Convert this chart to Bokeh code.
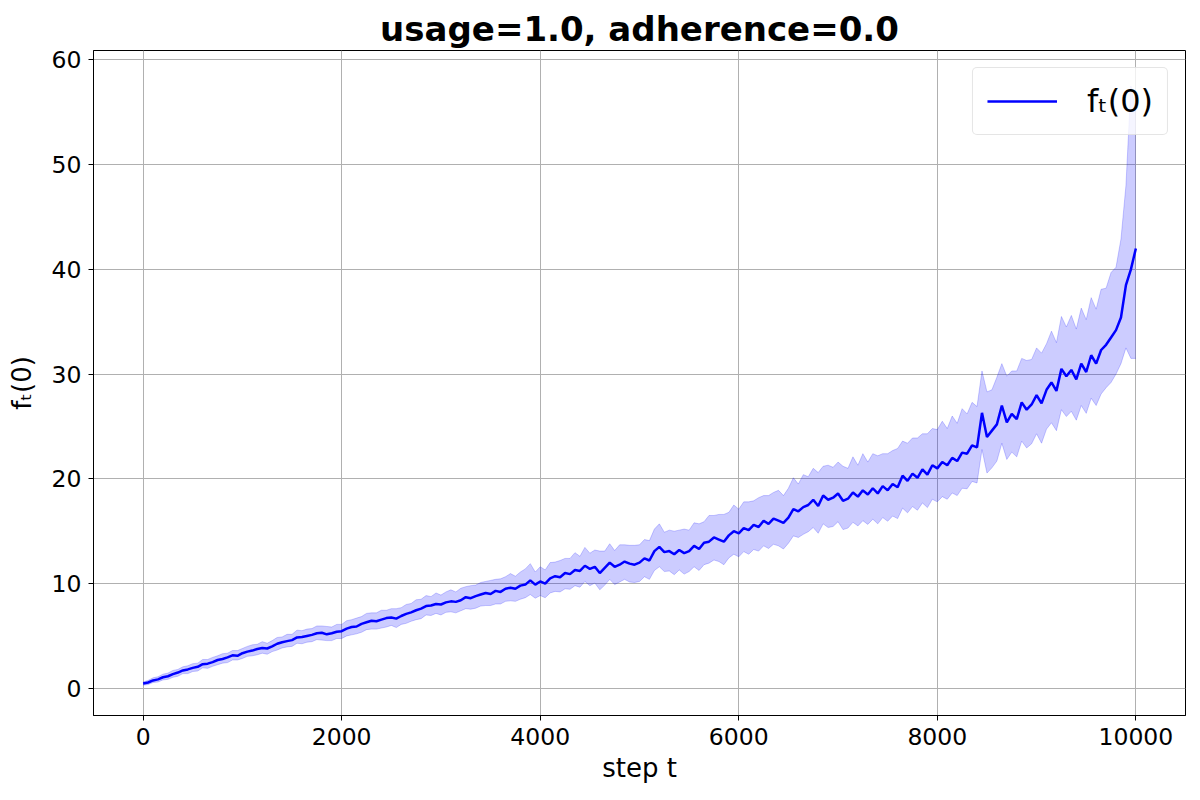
import numpy as np
from bokeh.plotting import figure
from bokeh.models import ColumnDataSource, FixedTicker, Range1d, Legend, LegendItem
from bokeh.embed import file_html
from bokeh.resources import INLINE

title_text = "usage=1.0, adherence=0.0"
x_label = "step t"
y_label = "fₜ(0)"
series_label = "fₜ(0)"
x_ticks = [0, 2000, 4000, 6000, 8000, 10000]
y_ticks = [0, 10, 20, 30, 40, 50, 60]

steps = list(range(0, 10001, 50))

mean = [
    0.45, 0.55, 0.75, 0.85, 1.05, 1.15, 1.35, 1.5, 1.7, 1.8, 1.95, 2.05, 2.3, 2.35, 2.5, 2.7, 2.8, 2.95, 3.15, 3.1, 3.35,
    3.5, 3.6, 3.75, 3.85, 3.8, 4.0, 4.25, 4.4, 4.5, 4.6, 4.85, 4.9, 5.0, 5.1, 5.25, 5.3, 5.15, 5.25, 5.4, 5.45,
    5.7, 5.85, 5.9, 6.15, 6.3, 6.45, 6.4, 6.55, 6.7, 6.75, 6.65, 6.9, 7.1, 7.25, 7.45, 7.6, 7.85, 7.9, 8.05, 8.0,
    8.2, 8.3, 8.25, 8.4, 8.7, 8.6, 8.8, 8.95, 9.1, 9.0, 9.3, 9.2, 9.5, 9.6, 9.5, 9.8, 9.9, 10.3, 9.9, 10.2,
    10.0, 10.5, 10.7, 10.6, 11.0, 10.9, 11.3, 11.2, 11.7, 11.4, 11.6, 11.0, 11.5, 12.0, 11.6, 11.8, 12.1, 11.9, 11.8, 12.0,
    12.4, 12.2, 13.1, 13.5, 13.0, 13.1, 12.8, 13.2, 12.9, 13.1, 13.6, 13.3, 13.9, 14.0, 14.4, 14.2, 14.0, 14.6, 15.0, 14.8,
    15.3, 15.1, 15.6, 15.4, 16.0, 15.7, 16.2, 16.0, 15.8, 16.3, 17.1, 16.9, 17.3, 17.5, 18.0, 17.4, 18.4, 18.0, 18.2, 18.6,
    17.9, 18.1, 18.7, 18.3, 18.9, 18.5, 19.1, 18.6, 19.3, 18.9, 19.5, 19.2, 20.3, 19.8, 20.5, 20.1, 20.9, 20.4, 21.3, 21.0,
    21.6, 21.3, 22.0, 21.7, 22.5, 22.4, 23.2, 23.0, 26.3, 24.0, 24.6, 25.2, 27.0, 25.4, 26.2, 25.7, 27.3, 26.6, 27.1, 28.0,
    27.2, 28.5, 29.2, 28.4, 30.5, 29.8, 30.4, 29.5, 31.0, 30.2, 31.8, 31.0, 32.3, 32.8, 33.5, 34.2, 35.4, 38.5, 40.0, 42.0,
]

spread_up = [
    0.15, 0.2, 0.25, 0.25, 0.3, 0.3, 0.35, 0.3, 0.35, 0.35, 0.4, 0.35, 0.45, 0.4, 0.45, 0.4, 0.5, 0.4, 0.45, 0.5, 0.45,
    0.5, 0.55, 0.45, 0.6, 0.5, 0.55, 0.6, 0.5, 0.65, 0.55, 0.7, 0.6, 0.65, 0.6, 0.7, 0.65, 0.75, 0.6, 0.7, 0.65,
    0.75, 0.7, 0.8, 0.7, 0.85, 0.75, 0.8, 0.9, 0.75, 0.85, 0.95, 0.8, 0.9, 0.85, 1.0, 0.9, 1.0, 0.85, 1.05, 0.9,
    1.0, 1.1, 0.95, 1.15, 1.0, 1.2, 1.05, 1.15, 1.1, 1.3, 1.1, 1.25, 1.15, 1.35, 1.2, 1.3, 1.5, 1.6, 1.2, 1.4,
    1.3, 1.5, 1.35, 1.6, 1.4, 1.5, 1.65, 1.4, 1.75, 1.5, 1.6, 2.1, 1.6, 1.8, 1.55, 1.9, 1.6, 1.75, 1.85, 1.7,
    1.8, 1.9, 2.1, 2.2, 1.9, 2.0, 2.2, 1.9, 2.3, 2.0, 2.2, 2.4, 2.0, 2.5, 2.1, 2.4, 2.6, 2.2, 2.5, 2.3,
    2.5, 2.7, 2.3, 2.8, 2.4, 2.7, 2.5, 2.9, 2.6, 2.8, 3.0, 2.6, 3.1, 2.7, 3.0, 3.2, 2.8, 3.3, 2.9, 3.0,
    3.3, 2.9, 3.4, 3.0, 3.5, 3.1, 3.3, 3.6, 3.1, 3.5, 3.2, 3.7, 3.3, 3.6, 3.4, 3.8, 3.4, 3.9, 3.5, 3.7,
    3.9, 3.5, 4.0, 3.6, 4.2, 3.8, 4.1, 3.9, 4.0, 4.3, 3.9, 4.5, 4.0, 4.4, 4.1, 4.6, 4.2, 4.7, 4.3, 4.5,
    4.8, 4.4, 4.9, 4.6, 5.0, 4.7, 5.2, 4.8, 5.3, 5.0, 5.5, 5.2, 5.8, 5.4, 6.2, 6.0, 7.5, 9.5, 17.5, 13.0,
]

spread_dn = [
    0.15, 0.2, 0.2, 0.25, 0.25, 0.3, 0.3, 0.35, 0.3, 0.4, 0.35, 0.4, 0.35, 0.45, 0.4, 0.45, 0.4, 0.5, 0.45, 0.4, 0.5,
    0.45, 0.5, 0.55, 0.5, 0.55, 0.5, 0.6, 0.55, 0.55, 0.6, 0.55, 0.65, 0.6, 0.65, 0.6, 0.7, 0.6, 0.7, 0.65, 0.7,
    0.7, 0.75, 0.7, 0.8, 0.7, 0.8, 0.75, 0.8, 0.85, 0.75, 0.85, 0.8, 0.9, 0.85, 0.9, 0.95, 0.85, 0.95, 0.9, 1.0,
    0.95, 1.0, 1.05, 1.0, 1.1, 1.05, 1.15, 1.1, 1.2, 1.1, 1.25, 1.15, 1.2, 1.25, 1.2, 1.3, 1.25, 1.35, 1.3, 1.35,
    1.35, 1.4, 1.45, 1.4, 1.5, 1.45, 1.5, 1.55, 1.5, 1.6, 1.55, 1.6, 1.65, 1.6, 1.7, 1.65, 1.7, 1.75, 1.7, 1.8,
    1.75, 1.8, 1.85, 1.9, 1.85, 1.9, 1.95, 1.9, 2.0, 1.95, 2.0, 2.05, 2.1, 2.05, 2.15, 2.1, 2.2, 2.15, 2.2, 2.25,
    2.25, 2.3, 2.35, 2.3, 2.4, 2.35, 2.45, 2.4, 2.5, 2.45, 2.55, 2.5, 2.6, 2.55, 2.65, 2.6, 2.7, 2.65, 2.75, 2.7,
    2.75, 2.8, 2.85, 2.8, 2.9, 2.85, 2.95, 2.9, 3.0, 2.95, 3.05, 3.0, 3.1, 3.05, 3.15, 3.1, 3.2, 3.15, 3.25, 3.2,
    3.3, 3.25, 3.35, 3.3, 3.4, 3.35, 3.45, 3.4, 3.5, 3.45, 3.55, 3.5, 3.6, 3.55, 3.65, 3.6, 3.7, 3.65, 3.75, 3.7,
    3.8, 3.75, 3.85, 3.8, 3.9, 3.85, 3.95, 3.9, 4.0, 3.95, 4.1, 4.0, 4.2, 4.1, 4.3, 4.2, 4.4, 6.0, 8.5, 10.5,
]

m = np.array(mean)
upper = m + np.array(spread_up)
lower = m - np.array(spread_dn)
src = ColumnDataSource(dict(t=steps, mean=mean, upper=upper, lower=lower))

FONT = "DejaVu Sans"

p = figure(width=1192, height=792, output_backend="svg", toolbar_location=None,
           x_range=Range1d(-500, 10500), y_range=Range1d(-2.6, 60.9),
           min_border_left=93, min_border_right=7, min_border_top=50, min_border_bottom=77)

p.title.text = title_text
p.title.text_font = FONT
p.title.text_font_size = "34px"
p.title.text_font_style = "bold"
p.title.align = "center"
p.title.text_color = "black"
p.title.standoff = 4

p.varea(x="t", y1="lower", y2="upper", source=src, fill_color="blue", fill_alpha=0.2)
p.line(x="t", y="upper", source=src, line_color="blue", line_alpha=0.2, line_width=1)
p.line(x="t", y="lower", source=src, line_color="blue", line_alpha=0.2, line_width=1)
r = p.line(x="t", y="mean", source=src, line_color="blue", line_width=2.5)

p.xaxis.ticker = FixedTicker(ticks=x_ticks)
p.yaxis.ticker = FixedTicker(ticks=y_ticks)
for ax in (p.xaxis[0], p.yaxis[0]):
    ax.major_label_text_font = FONT
    ax.major_label_text_font_size = "23.5px"
    ax.major_label_text_color = "black"
    ax.axis_label_text_font = FONT
    ax.axis_label_text_font_size = "26px"
    ax.axis_label_text_font_style = "normal"
    ax.axis_label_text_color = "black"
    ax.major_tick_out = 5
    ax.major_tick_in = 0
    ax.minor_tick_out = 0
    ax.minor_tick_in = 0
    ax.axis_line_color = "black"
    ax.major_tick_line_color = "black"
    ax.major_label_standoff = 7
p.xaxis.axis_label = x_label
p.yaxis.axis_label = y_label
p.xaxis.axis_label_standoff = 5
p.yaxis.axis_label_standoff = 12

p.grid.grid_line_color = "#b0b0b0"
p.grid.grid_line_width = 1
p.outline_line_color = "black"
p.outline_line_width = 1
p.background_fill_color = "white"
p.border_fill_color = "white"

legend = Legend(items=[LegendItem(label=series_label, renderers=[r])], location="top_right",
                margin=17, padding=14, spacing=0, glyph_width=70, glyph_height=36,
                label_text_font=FONT, label_text_font_size="32px", label_standoff=30,
                label_text_color="black",
                border_line_color="#cccccc", border_line_width=1, border_radius=5,
                background_fill_alpha=0.8)
p.add_layout(legend)

open("out.html", "w").write(file_html(p, INLINE))
